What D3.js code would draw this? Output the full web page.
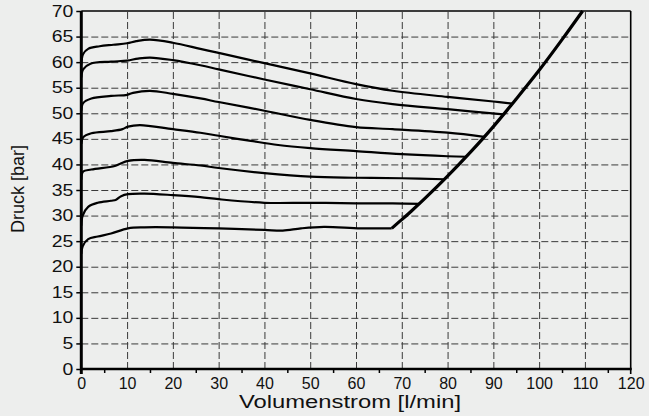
<!DOCTYPE html>
<html>
<head>
	<meta charset="utf-8">
	<title></title>
	<script src="https://d3js.org/d3.v7.min.js"></script>
	<style type="text/css">
		body {
			margin: 0;
			background: #edeeed;
		}
		svg text {
			font-family: 'Liberation Sans', Arial, sans-serif;
			fill: #111;
		}
		.grid line {
			stroke: #3a3a3a;
			stroke-width: 1;
			stroke-dasharray: 7, 3;
		}
		.grid path {
			display: none;
		}
		.curve {
			fill: none;
			stroke: #000;
			stroke-width: 2.2;
		}
	</style>
</head>
<body>
	<script type="text/javascript">
		var w = 649;
		var h = 416;

		// axis ticks
		var xTicks = [0, 10, 20, 30, 40, 50, 60, 70, 80, 90, 100, 110, 120];
		var xMinor = [5, 15, 25, 35, 45, 55, 65, 75, 85, 95, 105, 115];
		var yTicks = [0, 5, 10, 15, 20, 25, 30, 35, 40, 45, 50, 55, 60, 65, 70];

		// pressure curves [l/min, bar]
		var curve1 = [[0, 59.5], [0.4, 61.6], [1.5, 62.6], [4, 63.1], [7, 63.4], [10, 63.7], [12, 64.1], [15, 64.4], [20, 63.8], [26, 62.6], [30, 61.8], [40, 59.8], [50, 57.8], [60, 55.7], [68, 54.4], [80, 53.2], [90, 52.3], [94.1, 51.9]];
		var curve2 = [[0, 57], [0.4, 58.6], [2, 59.7], [6.5, 60.1], [10, 60.3], [12.4, 60.7], [15, 60.9], [20, 60.4], [26, 59.4], [30, 58.6], [40, 56.6], [50, 54.7], [60, 52.8], [68, 51.8], [80, 50.8], [92.2, 49.8]];
		var curve3 = [[0, 50.5], [0.4, 52], [2.2, 52.9], [6.5, 53.4], [10, 53.6], [11.3, 54], [15, 54.4], [20, 53.8], [26, 52.9], [30, 52.2], [40, 50.5], [50, 48.7], [60, 47.3], [68, 46.9], [80, 46.2], [88, 45.4]];
		var curve4 = [[0, 44], [0.4, 45.3], [2.2, 46.1], [6.5, 46.5], [9, 46.9], [10.2, 47.4], [12.8, 47.7], [20, 46.9], [26, 46.2], [30, 45.6], [37, 44.6], [43, 43.8], [50, 43.2], [60, 42.6], [70, 42], [80, 41.6], [84.1, 41.5]];
		var curve5 = [[0, 37], [0.4, 38.6], [2.2, 39], [7.3, 39.7], [8.4, 40.1], [10.2, 40.7], [13.8, 40.9], [20, 40.3], [26, 39.8], [30, 39.3], [40, 38.3], [50, 37.6], [60, 37.4], [70, 37.3], [79.3, 37.1]];
		var curve6 = [[0, 28], [0.3, 30], [1.5, 31.7], [3.6, 32.5], [6.5, 32.9], [7.6, 33.1], [8.7, 33.8], [10.2, 34.2], [13.8, 34.3], [20, 34], [26, 33.6], [30, 33.2], [40, 32.5], [50, 32.5], [60, 32.4], [68, 32.4], [74, 32.3]];
		var curve7 = [[0, 22.5], [0.3, 24], [1.5, 25.4], [3.6, 25.9], [6.5, 26.5], [10.2, 27.5], [13.8, 27.7], [20, 27.7], [30, 27.5], [40, 27.2], [44, 27.05], [48, 27.5], [53, 27.8], [61, 27.5], [67.8, 27.5]];
		// limit line
		var limit = [[67.8, 27.5], [70, 29.2], [72, 30.8], [75, 33.3], [80, 37.7], [85, 42.4], [90, 47.4], [95, 52.8], [100, 58.4], [105, 64.4], [109.5, 70]];

		var curves = [curve1, curve2, curve3, curve4, curve5, curve6, curve7];

		var svg = d3.select('body')
			.append('svg')
			.attr('width', w)
			.attr('height', h);

		var x = d3.scaleLinear().domain([0, 120]).range([81.3, 630.7]);
		var y = d3.scaleLinear().domain([0, 70]).range([369, 11]);

		// grid
		svg.append('g')
			.attr('class', 'grid')
			.attr('transform', 'translate(0,' + y(0) + ')')
			.call(d3.axisBottom(x).tickValues(xTicks.slice(1, -1)).tickSize(-(y(0) - y(70))).tickFormat(''));

		svg.append('g')
			.attr('class', 'grid')
			.attr('transform', 'translate(' + x(0) + ',0)')
			.call(d3.axisLeft(y).tickValues(yTicks.slice(1, -1)).tickSize(-(x(120) - x(0))).tickFormat(''));

		// frame
		svg.append('line')
			.attr('x1', x(0)).attr('x2', x(120))
			.attr('y1', y(70)).attr('y2', y(70))
			.attr('stroke', '#000').attr('stroke-width', 1.6);
		svg.append('line')
			.attr('x1', x(120)).attr('x2', x(120))
			.attr('y1', y(70)).attr('y2', y(0) + 5)
			.attr('stroke', '#000').attr('stroke-width', 1.6);

		// curves
		var line = d3.line()
			.x(function (d) { return x(d[0]); })
			.y(function (d) { return y(d[1]); })
			.curve(d3.curveCatmullRom.alpha(0.5));

		svg.append('g')
			.selectAll('path')
			.data(curves)
			.enter()
			.append('path')
			.attr('class', 'curve')
			.attr('d', line);

		svg.append('path')
			.datum(limit)
			.attr('class', 'curve')
			.style('stroke-width', 3.2)
			.attr('d', line);

		// y axis
		var yAxis = svg.append('g')
			.attr('transform', 'translate(' + x(0) + ',0)')
			.call(d3.axisLeft(y).tickValues(yTicks).tickSize(5).tickPadding(3));
		yAxis.select('.domain').remove();
		yAxis.selectAll('line').attr('stroke', '#000').attr('stroke-width', 1.5);
		yAxis.selectAll('text')
			.style('font-size', '16px')
			.attr('textLength', function (d) { return String(d).length * 10.8; })
			.attr('lengthAdjust', 'spacingAndGlyphs');

		// x axis
		var xAxis = svg.append('g')
			.attr('transform', 'translate(0,' + y(0) + ')')
			.call(d3.axisBottom(x).tickValues(xTicks).tickSize(0).tickPadding(9));
		xAxis.select('.domain').remove();
		xAxis.selectAll('text').style('font-size', '16px');

		var xMin = svg.append('g')
			.attr('transform', 'translate(0,' + y(0) + ')')
			.call(d3.axisBottom(x).tickValues(xMinor).tickSize(4).tickFormat(''));
		xMin.select('.domain').remove();
		xMin.selectAll('line').attr('stroke', '#000').attr('stroke-width', 1.5);

		svg.append('line')
			.attr('x1', x(0)).attr('x2', x(0))
			.attr('y1', y(70)).attr('y2', y(0) + 5)
			.attr('stroke', '#000').attr('stroke-width', 3);
		svg.append('line')
			.attr('x1', x(0) - 1).attr('x2', x(120) + 1)
			.attr('y1', y(0)).attr('y2', y(0))
			.attr('stroke', '#000').attr('stroke-width', 2.5);

		// titles
		svg.append('text')
			.text('Volumenstrom [l/min]')
			.attr('x', 350)
			.attr('y', 408)
			.attr('text-anchor', 'middle')
			.attr('textLength', 222)
			.attr('lengthAdjust', 'spacingAndGlyphs')
			.style('font-size', '18px');

		svg.append('text')
			.text('Druck [bar]')
			.attr('transform', 'translate(24,189) rotate(-90)')
			.attr('text-anchor', 'middle')
			.style('font-size', '18px');
	</script>
</body>
</html>
